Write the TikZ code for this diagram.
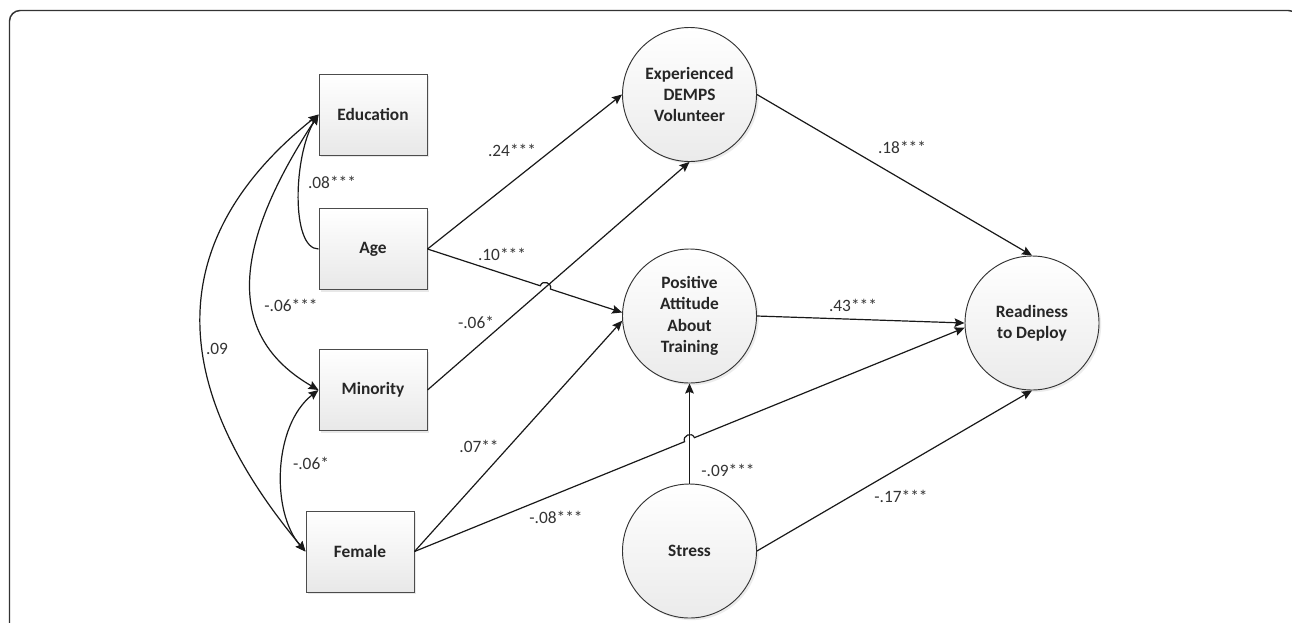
\documentclass[tikz,border=0pt]{standalone}
\usepackage{fontspec}
\setmainfont{Carlito}
\usetikzlibrary{arrows.meta,shadows,calc}
\tikzset{
  varbox/.style={rectangle, draw=black!70, line width=0.75pt,
    minimum width=81pt, minimum height=60.75pt, inner sep=0pt,
    top color=white, bottom color=black!9,
    drop shadow={shadow xshift=1.6pt, shadow yshift=-1.6pt, opacity=0.18},
    font=\bfseries\fontsize{13}{16}\selectfont, text=black!85},
  latent/.style={circle, draw=black!80, line width=0.7pt,
    minimum size=100.5pt, inner sep=0pt, align=center,
    top color=white, bottom color=black!8,
    drop shadow={shadow xshift=1.6pt, shadow yshift=-1.6pt, opacity=0.15},
    font=\bfseries\fontsize{13}{16}\selectfont, text=black!85},
  arr/.style={draw=black!90, line width=0.9pt, -{Stealth[length=7.5pt,width=6.5pt,inset=1.2pt]}},
  cov/.style={draw=black!90, line width=0.9pt, {Stealth[length=7.5pt,width=6.5pt,inset=1.2pt]}-{Stealth[length=7.5pt,width=6.5pt,inset=1.2pt]}},
  lab/.style={inner sep=0pt, font=\fontsize{13}{15}\selectfont, text=black!80},
  frame/.style={draw=black!80, line width=1.1pt, rounded corners=8pt}
}
\begin{document}
\begin{tikzpicture}[x=0.75pt,y=-0.75pt]
\useasboundingbox (0,0) rectangle (1292,622);
\clip (0,0) rectangle (1292,622);
\fill[white] (0,0) rectangle (1292,622);
\draw[frame] (9.5,660) -- (9.5,10.5) -- (1299,10.5) -- (1299,660);

% observed variables
\node[varbox] (edu) at (373,114.5) {Education};
\node[varbox] (age) at (373,249) {Age};
\node[varbox] (min) at (373,390) {Minority};
\node[varbox] (fem) at (360,551.5) {Female};

% latent / circle variables
\node[latent] (exp) at (689.5,94.5) {Experienced\\DEMPS\\Volunteer};
\node[latent] (pat) at (689.5,316) {Positive\\Attitude\\About\\Training};
\node[latent] (str) at (689.5,551) {Stress};
\node[latent] (rdy) at (1032,323) {Readiness\\to Deploy};

% hop coordinates
\coordinate (X1) at (intersection of age.east--pat.177 and min.east--exp.south);
\coordinate (a1) at ($(X1)!4pt!(age.east)$);
\coordinate (a2) at ($(X1)!4pt!(pat.177)$);
\coordinate (X2) at (intersection of fem.east--rdy.184 and str.north--pat.south);
\coordinate (b1) at ($(X2)!4pt!(fem.east)$);
\coordinate (b2) at ($(X2)!4pt!(rdy.184)$);

% directed paths
\draw[arr] (age.east) -- (exp.west);
\draw[arr] (age.east) -- (a1) .. controls ($(a1)!5pt!90:(a2)$) and ($(a2)!5pt!-90:(a1)$) .. (a2) -- (pat.177);
\draw[arr] (min.east) -- (exp.south);
\draw[arr] (fem.east) -- (pat.184);
\draw[arr] (fem.east) -- (b1) .. controls ($(b1)!5pt!90:(b2)$) and ($(b2)!5pt!-90:(b1)$) .. (b2) -- (rdy.184);
\draw[arr] (str.north) -- (pat.south);
\draw[arr] (str.east) -- (rdy.south);
\draw[arr] (exp.east) -- (rdy.north);
\draw[arr] (pat.east) -- (rdy.west);

% covariances
\draw[arr] (age.west) .. controls +(-28,0) and +(-25,40) .. (edu.west);
\draw[cov] (min.west) .. controls +(-95,-55) and +(-85,130) .. (edu.west);
\draw[cov] (fem.west) .. controls +(-126,-151) and +(-169,135.5) .. (edu.west);
\draw[cov] (fem.west) .. controls +(-35,-40) and +(-45,35) .. (min.west);

% labels
\node[lab] (l1) at (332,182) {.08***};
\node[lab] (l2) at (291,305) {-.06***};
\node[lab] (l3) at (217,349) {.09};
\node[lab] (l4) at (311,463) {-.06*};
\node[lab] (l5) at (512,150) {.24***};
\node[lab] (l6) at (502,254) {.10***};
\node[lab] (l7) at (476,322) {-.06*};
\node[lab] (l8) at (479,446) {.07**};
\node[lab] (l9) at (556,517) {-.08***};
\node[lab] (l10) at (728,470) {-.09***};
\node[lab] (l11) at (853,305) {.43***};
\node[lab] (l12) at (902,147) {.18***};
\node[lab] (l13) at (901,496) {-.17***};
\end{tikzpicture}
\end{document}
